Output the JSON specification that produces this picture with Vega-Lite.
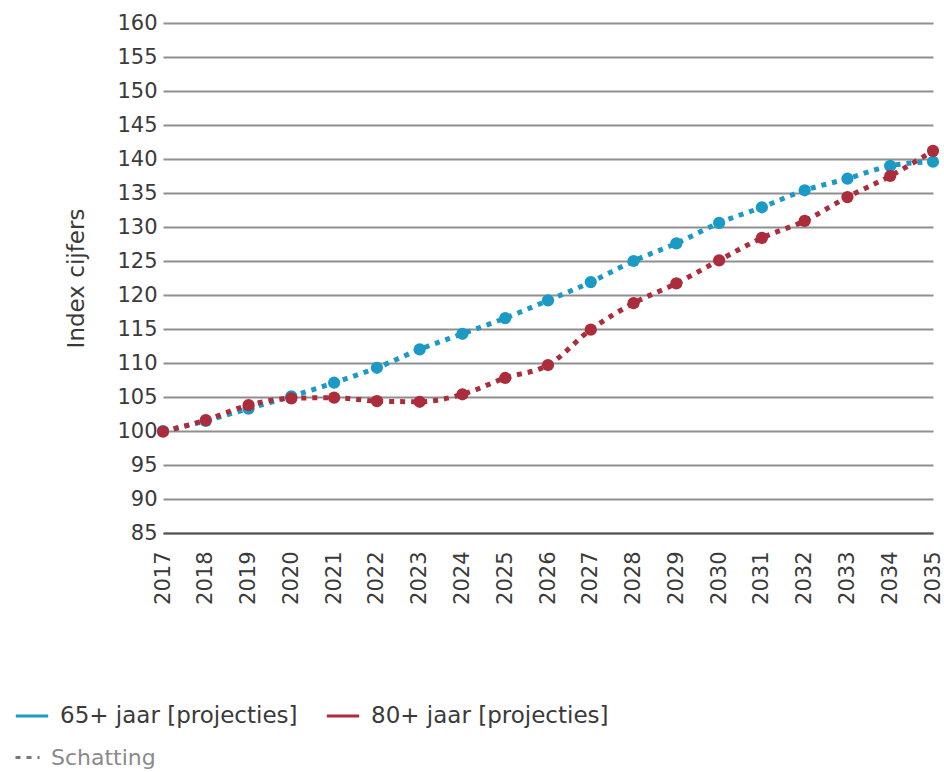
{
  "$schema": "https://vega.github.io/schema/vega-lite/v6.json",
  "width": 770,
  "height": 510,
  "autosize": {"type": "none"},
  "padding": {"left": 163, "top": 23, "right": 11, "bottom": 239},
  "background": "white",
  "config": {
    "font": "DejaVu Sans",
    "view": {"stroke": null},
    "axis": {"labelFont": "DejaVu Sans", "titleFont": "DejaVu Sans"}
  },
  "data": {
    "values": [
      {"year": "2017", "series": "65+ jaar [projecties]", "value": 100.0, "type": "Schatting"},
      {"year": "2018", "series": "65+ jaar [projecties]", "value": 101.5, "type": "Schatting"},
      {"year": "2019", "series": "65+ jaar [projecties]", "value": 103.3, "type": "Schatting"},
      {"year": "2020", "series": "65+ jaar [projecties]", "value": 105.1, "type": "Schatting"},
      {"year": "2021", "series": "65+ jaar [projecties]", "value": 107.1, "type": "Schatting"},
      {"year": "2022", "series": "65+ jaar [projecties]", "value": 109.3, "type": "Schatting"},
      {"year": "2023", "series": "65+ jaar [projecties]", "value": 112.0, "type": "Schatting"},
      {"year": "2024", "series": "65+ jaar [projecties]", "value": 114.3, "type": "Schatting"},
      {"year": "2025", "series": "65+ jaar [projecties]", "value": 116.6, "type": "Schatting"},
      {"year": "2026", "series": "65+ jaar [projecties]", "value": 119.2, "type": "Schatting"},
      {"year": "2027", "series": "65+ jaar [projecties]", "value": 121.9, "type": "Schatting"},
      {"year": "2028", "series": "65+ jaar [projecties]", "value": 125.0, "type": "Schatting"},
      {"year": "2029", "series": "65+ jaar [projecties]", "value": 127.6, "type": "Schatting"},
      {"year": "2030", "series": "65+ jaar [projecties]", "value": 130.6, "type": "Schatting"},
      {"year": "2031", "series": "65+ jaar [projecties]", "value": 132.9, "type": "Schatting"},
      {"year": "2032", "series": "65+ jaar [projecties]", "value": 135.4, "type": "Schatting"},
      {"year": "2033", "series": "65+ jaar [projecties]", "value": 137.1, "type": "Schatting"},
      {"year": "2034", "series": "65+ jaar [projecties]", "value": 139.0, "type": "Schatting"},
      {"year": "2035", "series": "65+ jaar [projecties]", "value": 139.6, "type": "Schatting"},
      {"year": "2017", "series": "80+ jaar [projecties]", "value": 99.9, "type": "Schatting"},
      {"year": "2018", "series": "80+ jaar [projecties]", "value": 101.6, "type": "Schatting"},
      {"year": "2019", "series": "80+ jaar [projecties]", "value": 103.8, "type": "Schatting"},
      {"year": "2020", "series": "80+ jaar [projecties]", "value": 104.8, "type": "Schatting"},
      {"year": "2021", "series": "80+ jaar [projecties]", "value": 104.9, "type": "Schatting"},
      {"year": "2022", "series": "80+ jaar [projecties]", "value": 104.4, "type": "Schatting"},
      {"year": "2023", "series": "80+ jaar [projecties]", "value": 104.3, "type": "Schatting"},
      {"year": "2024", "series": "80+ jaar [projecties]", "value": 105.4, "type": "Schatting"},
      {"year": "2025", "series": "80+ jaar [projecties]", "value": 107.8, "type": "Schatting"},
      {"year": "2026", "series": "80+ jaar [projecties]", "value": 109.7, "type": "Schatting"},
      {"year": "2027", "series": "80+ jaar [projecties]", "value": 114.9, "type": "Schatting"},
      {"year": "2028", "series": "80+ jaar [projecties]", "value": 118.8, "type": "Schatting"},
      {"year": "2029", "series": "80+ jaar [projecties]", "value": 121.7, "type": "Schatting"},
      {"year": "2030", "series": "80+ jaar [projecties]", "value": 125.1, "type": "Schatting"},
      {"year": "2031", "series": "80+ jaar [projecties]", "value": 128.4, "type": "Schatting"},
      {"year": "2032", "series": "80+ jaar [projecties]", "value": 130.9, "type": "Schatting"},
      {"year": "2033", "series": "80+ jaar [projecties]", "value": 134.4, "type": "Schatting"},
      {"year": "2034", "series": "80+ jaar [projecties]", "value": 137.5, "type": "Schatting"},
      {"year": "2035", "series": "80+ jaar [projecties]", "value": 141.2, "type": "Schatting"}
    ]
  },
  "encoding": {
    "x": {
      "field": "year",
      "type": "ordinal",
      "scale": {"type": "point", "padding": 0},
      "axis": {
        "title": null,
        "labelAngle": 270,
        "labelFontSize": 21,
        "labelColor": "#3a3a3a",
        "labelPadding": 18,
        "ticks": false,
        "domain": true,
        "domainColor": "#555555",
        "domainWidth": 2,
        "grid": false
      }
    },
    "y": {
      "field": "value",
      "type": "quantitative",
      "scale": {"domain": [85, 160], "nice": false, "zero": false},
      "axis": {
        "title": "Index cijfers",
        "titleFontSize": 23,
        "titleFontWeight": "normal",
        "titleColor": "#3a3a3a",
        "titlePadding": 28,
        "values": [85, 90, 95, 100, 105, 110, 115, 120, 125, 130, 135, 140, 145, 150, 155, 160],
        "labelFontSize": 21,
        "labelColor": "#3a3a3a",
        "labelPadding": 6,
        "ticks": false,
        "domain": false,
        "grid": true,
        "gridColor": "#8f8f8f",
        "gridWidth": 2
      }
    },
    "color": {
      "field": "series",
      "type": "nominal",
      "scale": {"domain": ["65+ jaar [projecties]", "80+ jaar [projecties]"], "range": ["#1b9ac6", "#ad2c3b"]},
      "legend": {
        "title": null,
        "orient": "none",
        "legendX": -149,
        "legendY": 675,
        "direction": "horizontal",
        "symbolType": "stroke",
        "symbolSize": 1050,
        "symbolStrokeWidth": 3,
        "symbolDash": [1, 0],
        "labelFontSize": 23,
        "labelColor": "#3a3a3a",
        "labelOffset": 10,
        "labelLimit": 0,
        "columnPadding": 22
      }
    }
  },
  "layer": [
    {
      "mark": {"type": "line", "strokeWidth": 5, "interpolate": "monotone", "strokeCap": "butt"},
      "encoding": {
        "strokeDash": {
          "field": "type",
          "type": "nominal",
          "scale": {"domain": ["Schatting"], "range": [[5, 6]]},
          "legend": {
            "title": null,
            "orient": "none",
            "legendX": -149,
            "legendY": 721,
            "symbolType": "stroke",
            "symbolSize": 576,
            "symbolStrokeColor": "#777777",
            "symbolStrokeWidth": 3,
            "labelFontSize": 22,
            "labelColor": "#8a8a8a",
            "labelOffset": 10,
            "encode": {"symbols": {"update": {"strokeDash": {"value": [2, 2]}}}}
          }
        }
      }
    },
    {
      "mark": {"type": "point", "filled": true, "size": 150, "opacity": 1}
    }
  ]
}
